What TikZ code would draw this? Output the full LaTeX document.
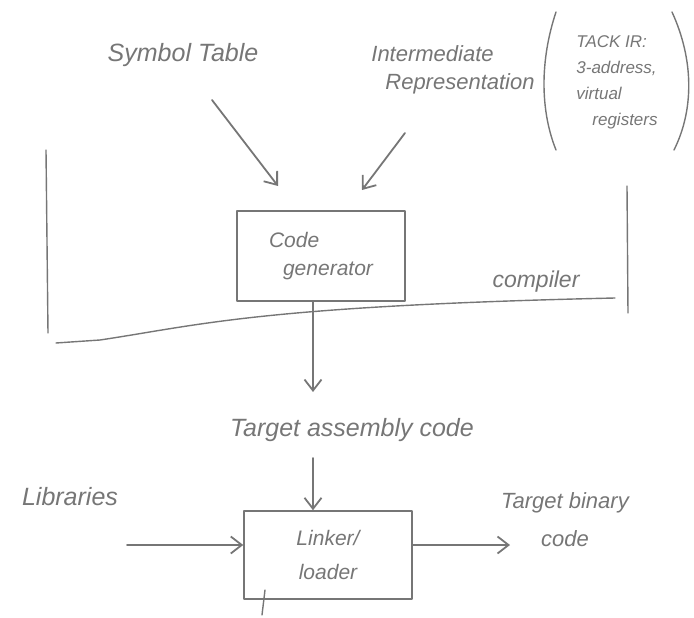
\documentclass[tikz,border=0pt]{standalone}
\usepackage{fontspec}
\setmainfont{Liberation Sans}
\usetikzlibrary{arrows.meta}
\definecolor{pencil}{RGB}{118,118,118}
\tikzset{
  ink/.style={draw=pencil, line width=1.8pt, line cap=round, line join=round},
  barb/.style={ink, -{Straight Barb[length=11pt,width=17pt,line width=1.8pt]}},
  lbl/.style={text=pencil, inner sep=1pt, font=\itshape},
}
\begin{document}
\begin{tikzpicture}[x=1pt,y=-1pt]
\useasboundingbox (0,0) rectangle (694,618);

% inputs to the code generator
\node[lbl, font=\itshape\fontsize{25}{27}\selectfont] (sym) at (183,55) {Symbol Table};
\node[lbl, font=\itshape\fontsize{22}{24}\selectfont, align=left] (ir) at (453,70)
  {Intermediate\\[4pt]\hspace*{14pt}Representation};

% side note on the IR
\node[lbl, font=\itshape\fontsize{17}{26}\selectfont, align=left] (note) at (617,82)
  {TACK IR:\\3-address,\\virtual\\\hspace*{16pt}registers};
\draw[ink, line width=1.4pt] (556,12) .. controls (540,60) and (540,110) .. (556,150);
\draw[ink, line width=1.4pt] (672,12) .. controls (694,60) and (694,110) .. (674,150);

% compiler boundary
\coordinate (cl1) at (46,150);
\coordinate (cl2) at (48,333);
\coordinate (cb1) at (56,343);
\coordinate (cb2) at (615,298);
\coordinate (cr1) at (627,186);
\coordinate (cr2) at (628,313);
\draw[ink, line width=1.4pt] (cl1) -- (cl2);
\draw[ink, line width=1.4pt] (cb1) -- (100,340) .. controls (200,325) and (260,306) .. (cb2);
\draw[ink, line width=1.4pt] (cr1) -- (cr2);
\node[lbl, font=\itshape\fontsize{23}{25}\selectfont] (comp) at (536,282) {compiler};

% code generator box
\node[ink, line width=1.5pt, minimum width=168pt, minimum height=90pt,
      text=pencil, font=\itshape\fontsize{21}{28}\selectfont, align=left] (cg) at (321,256)
  {Code\\\hspace*{14pt}generator};

\coordinate (symend) at (278,186);
\coordinate (irend) at (362,190);
\draw[barb] (212,100) -- (symend);
\draw[barb] (405,133) -- (irend);

% assembly output
\coordinate (asmarrow) at (313,392);
\node[lbl, font=\itshape\fontsize{25}{27}\selectfont] (asm) at (352,430) {Target assembly code};
\draw[barb] (cg.south -| asmarrow) -- (asmarrow);

% linker / loader
\node[ink, line width=1.5pt, minimum width=168pt, minimum height=88pt,
      text=pencil, font=\itshape\fontsize{21}{34}\selectfont, align=center] (ld) at (328,555)
  {Linker/\\loader};
\coordinate (ldin) at (313,458);
\draw[barb] (ldin) -- (ld.north -| ldin);
\coordinate (tick) at (265,590);
\draw[ink, line width=1.4pt] (tick) -- (262,615);

\node[lbl, font=\itshape\fontsize{25}{27}\selectfont] (lib) at (70,497) {Libraries};
\coordinate (libstart) at (127,545);
\draw[barb] (libstart) -- (ld.west |- libstart);

\node[lbl, font=\itshape\fontsize{22}{38}\selectfont, align=center] (bin) at (565,520)
  {Target binary\\code};
\coordinate (binend) at (510,545);
\draw[barb] (ld.east |- binend) -- (binend);
\end{tikzpicture}
\end{document}
